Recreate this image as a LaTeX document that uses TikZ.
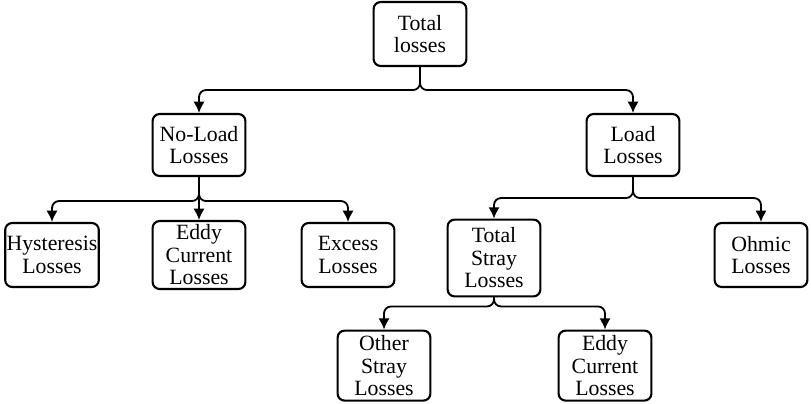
\documentclass[tikz,border=0pt]{standalone}
\usepackage{fontspec}
\setmainfont{Liberation Serif}
\usepackage{tikz}
\usetikzlibrary{arrows.meta,shapes,positioning,calc}
\tikzset{
    box/.style={draw,rounded corners=5pt,line width=1.5pt,minimum width=2.32cm,minimum height=1.6cm,align=center,inner sep=1pt,font=\fontsize{15.5}{16}\selectfont},
    tallbox/.style={box,minimum height=1.75cm},
    line/.style={-{Latex[length=8pt,width=8pt]},line width=1.3pt,rounded corners=5pt},
}
\begin{document}
\begin{tikzpicture}
                \useasboundingbox (0,0) rectangle (20.275,-10.075);
                \node[box] (total) at (10.5,-0.85) {Total\\losses};
                \node[box,minimum height=1.55cm] (noload) at (4.975,-3.625) {No-Load\\Losses};
                \node[box,minimum height=1.55cm] (load) at (15.825,-3.625) {Load\\Losses};
                \node[box] (hyst) at (1.3,-6.375) {Hysteresis\\Losses};
                \node[tallbox,minimum height=1.7cm] (eddya) at (4.975,-6.375) {Eddy\\Current\\Losses};
                \node[box] (excess) at (8.7,-6.375) {Excess\\Losses};
                \node[tallbox,minimum height=1.92cm] (stray) at (12.35,-6.45) {Total\\Stray\\Losses};
                \node[box] (ohmic) at (19.025,-6.375) {Ohmic\\Losses};
                \node[tallbox] (other) at (9.6,-9.14) {Other\\Stray\\Losses};
                \node[tallbox] (eddyb) at (15.125,-9.14) {Eddy\\Current\\Losses};
                % first level
                \draw[line] (total.south) -- ++(0,-0.575) -| (noload.north);
                \draw[line] (total.south) -- ++(0,-0.575) -| (load.north);
                % no-load branch
                \draw[line] (noload.south) -- ++(0,-0.6) -| (hyst.north);
                \draw[line] (noload.south) -- (eddya.north);
                \draw[line] (noload.south) -- ++(0,-0.6) -| (excess.north);
                % load branch
                \draw[line] (load.south) -- ++(0,-0.525) -| (stray.north);
                \draw[line] (load.south) -- ++(0,-0.525) -| (ohmic.north);
                % stray branch
                \draw[line] (stray.south) -- ++(0,-0.225) -| (other.north);
                \draw[line] (stray.south) -- ++(0,-0.225) -| (eddyb.north);
            \end{tikzpicture}
\end{document}
